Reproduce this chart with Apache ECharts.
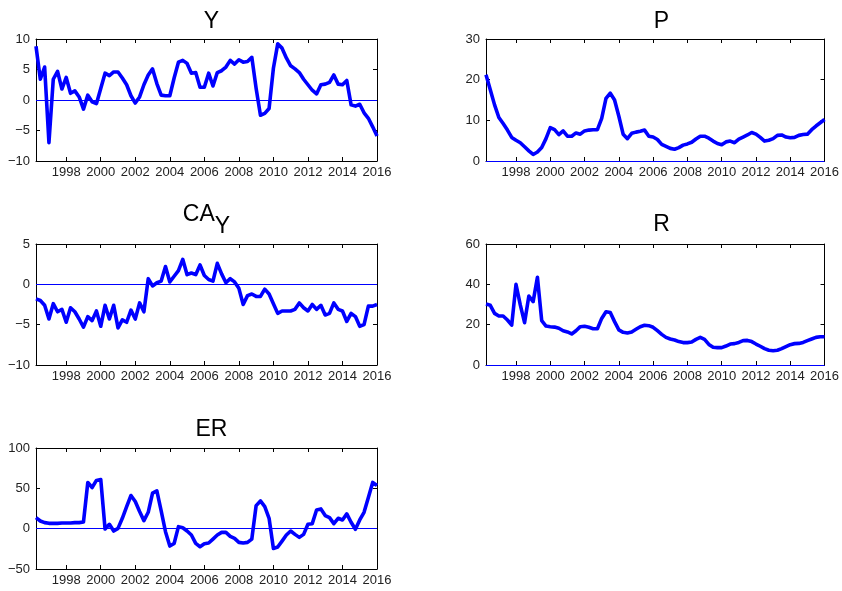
<!DOCTYPE html>
<html>
<head>
<meta charset="utf-8">
<script src="https://cdn.jsdelivr.net/npm/echarts@6/dist/echarts.min.js"></script>
<style>
  html, body { margin: 0; padding: 0; background: #ffffff; }
  #chart { width: 842px; height: 591px; }
</style>
</head>
<body>
<div id="chart"></div>
<script>
// Quarterly observations, 1996Q2 .. 2016Q1 (time in fractional years)
const firstQuarter = 1996.25;
const lastQuarter = 2016.0;
const yearTicks = [1998, 2000, 2002, 2004, 2006, 2008, 2010, 2012, 2014, 2016];

// Output growth (Y)
const seriesY = [
  8.8, 3.4, 5.4, -7.0, 3.4, 4.7, 1.8, 3.7, 1.1, 1.5, 0.5, -1.5, 0.8, -0.3, -0.6, 1.9,
  4.4, 4.0, 4.6, 4.6, 3.6, 2.5, 0.7, -0.5, 0.5, 2.5, 4.1, 5.1, 2.7, 0.8, 0.7, 0.7,
  3.6, 6.2, 6.5, 6.0, 4.4, 4.5, 2.1, 2.1, 4.4, 2.3, 4.5, 4.8, 5.4, 6.5, 5.9, 6.6,
  6.2, 6.3, 7.0, 1.9, -2.5, -2.2, -1.4, 5.2, 9.2, 8.5, 6.9, 5.6, 5.1, 4.5, 3.4, 2.5,
  1.6, 1.0, 2.5, 2.6, 2.9, 4.1, 2.6, 2.5, 3.2, -0.8, -1.0, -0.7, -2.1, -3.0, -4.4, -5.9
];

// Inflation (P)
const seriesP = [
  21.2, 17.5, 13.8, 10.7, 9.2, 7.6, 5.8, 5.1, 4.5, 3.5, 2.5, 1.6, 2.2, 3.3, 5.5, 8.2,
  7.7, 6.5, 7.4, 6.1, 6.1, 6.9, 6.6, 7.4, 7.6, 7.7, 7.7, 10.5, 15.4, 16.7, 15.0, 11.0,
  6.6, 5.5, 6.8, 7.1, 7.3, 7.6, 6.1, 5.9, 5.3, 4.1, 3.6, 3.1, 2.9, 3.3, 3.9, 4.2,
  4.6, 5.4, 6.1, 6.1, 5.6, 4.9, 4.3, 4.0, 4.7, 4.9, 4.5, 5.4, 5.9, 6.4, 7.0, 6.6,
  5.8, 4.9, 5.1, 5.5, 6.3, 6.4, 5.9, 5.7, 5.8, 6.3, 6.5, 6.6, 7.7, 8.6, 9.4, 10.2
];

// Current account to output (CA_Y)
const seriesCA = [
  -1.8, -2.0, -2.6, -4.3, -2.4, -3.4, -3.1, -4.7, -2.9, -3.4, -4.3, -5.3, -4.0, -4.5, -3.3, -5.2,
  -2.6, -4.3, -2.6, -5.4, -4.4, -4.7, -3.2, -4.3, -2.3, -3.4, 0.7, -0.2, 0.2, 0.4, 2.2, 0.3,
  1.0, 1.7, 3.1, 1.2, 1.4, 1.2, 2.4, 1.1, 0.6, 0.4, 2.6, 1.3, 0.2, 0.7, 0.3, -0.5,
  -2.5, -1.4, -1.2, -1.5, -1.5, -0.6, -1.2, -2.4, -3.6, -3.3, -3.3, -3.3, -3.1, -2.3, -2.9, -3.3,
  -2.5, -3.1, -2.6, -3.8, -3.6, -2.3, -3.1, -3.3, -4.6, -3.6, -4.0, -5.2, -5.0, -2.7, -2.7, -2.5
];

// Interest rate (R)
const seriesR = [
  30.2, 29.6, 25.6, 24.3, 24.3, 22.3, 19.8, 40.0, 29.8, 21.0, 34.2, 31.4, 43.5, 22.0, 19.3, 19.0,
  18.8, 18.2, 17.0, 16.4, 15.4, 17.0, 19.0, 19.2, 18.7, 18.0, 18.0, 23.1, 26.4, 26.0, 21.5, 17.4,
  16.2, 15.9, 16.4, 17.7, 19.0, 19.7, 19.5, 18.7, 17.0, 15.2, 13.7, 12.9, 12.4, 11.6, 11.1, 11.1,
  11.4, 12.7, 13.7, 12.7, 10.2, 8.8, 8.6, 8.6, 9.4, 10.4, 10.6, 11.2, 12.1, 12.2, 11.6, 10.4,
  9.3, 8.1, 7.3, 7.1, 7.3, 8.1, 9.1, 10.1, 10.6, 10.7, 11.2, 12.1, 12.9, 13.7, 14.0, 14.0
];

// Exchange rate (ER)
const seriesER = [
  13.7, 9.5, 7.5, 6.6, 6.6, 6.6, 7.0, 7.0, 7.0, 7.5, 7.5, 8.3, 57.3, 51.0, 59.8, 61.0,
  -0.4, 5.4, -2.9, 0.4, 12.9, 27.4, 41.1, 33.6, 21.2, 10.0, 20.3, 44.0, 46.9, 22.0, -3.7, -21.6,
  -18.3, 2.5, 1.2, -2.9, -7.9, -18.3, -22.4, -18.7, -17.8, -12.9, -7.9, -4.6, -4.6, -9.5, -12.0, -17.0,
  -17.8, -17.0, -12.9, 28.6, 34.4, 27.4, 12.9, -24.5, -22.8, -15.4, -7.9, -2.9, -7.1, -10.8, -7.1, 5.4,
  6.2, 23.2, 24.5, 16.2, 13.7, 6.2, 12.9, 10.8, 18.3, 7.9, -0.8, 10.8, 20.3, 38.6, 57.3, 53.5
];

const quarters = seriesY.map((_, i) => firstQuarter + i * 0.25);
const pairs = values => values.map((v, i) => [quarters[i], v]);

const FONT = 'Liberation Sans, Arial, Helvetica, sans-serif';
const BLUE = '#0000ff';

// Panel layout: grid box, title and y scale for each subplot
const panels = [
  { name: 'Y',  values: seriesY,  ymin: -10, ymax: 10,  step: 5,  left: 36,  top: 39,  height: 122, titleTop: 5,   titleShift: 0 },
  { name: 'P',  values: seriesP,  ymin: 0,   ymax: 30,  step: 10, left: 486, top: 39,  height: 122, titleTop: 5,   titleShift: 0 },
  { name: 'CA', sub: 'Y', values: seriesCA, ymin: -10, ymax: 5, step: 5, left: 36, top: 244, height: 121, titleTop: 186, titleShift: -5 },
  { name: 'R',  values: seriesR,  ymin: 0,   ymax: 60,  step: 20, left: 486, top: 244, height: 121, titleTop: 208, titleShift: 0 },
  { name: 'ER', values: seriesER, ymin: -50, ymax: 100, step: 50, left: 36,  top: 448, height: 121, titleTop: 413, titleShift: 0 }
];
const panelWidth = 341;

const minus = v => String(v).replace('-', '\u2212');

const option = {
  animation: false,
  backgroundColor: '#ffffff',
  title: [],
  grid: [],
  xAxis: [],
  yAxis: [],
  series: []
};

panels.forEach((p, i) => {
  option.title.push({
    text: p.sub ? '{m|' + p.name + '}{s|' + p.sub + '}' : p.name,
    left: p.left + panelWidth / 2 + p.titleShift,
    top: p.titleTop,
    textAlign: 'center',
    textStyle: {
      fontFamily: FONT, fontSize: 23, fontWeight: 'normal', color: '#000',
      rich: {
        m: { fontFamily: FONT, fontSize: 23, color: '#000' },
        s: { fontFamily: FONT, fontSize: 23, color: '#000', padding: [24, 0, 0, 0] }
      }
    }
  });
  option.grid.push({ left: p.left, top: p.top, width: panelWidth, height: p.height, containLabel: false });

  const xBase = {
    type: 'value', gridIndex: i, min: firstQuarter, max: lastQuarter,
    splitLine: { show: false },
    axisLine: { show: true, onZero: false, lineStyle: { color: '#000', width: 1 } },
    axisTick: { show: true, inside: true, length: 4, customValues: yearTicks, lineStyle: { color: '#000' } }
  };
  option.xAxis.push(Object.assign({}, xBase, {
    position: 'bottom',
    axisLabel: { show: true, customValues: yearTicks, margin: 5, fontFamily: FONT, fontSize: 13, color: '#222',
                 formatter: v => String(Math.round(v)) }
  }));
  option.xAxis.push(Object.assign({}, xBase, { position: 'top', axisLabel: { show: false } }));

  const yBase = {
    type: 'value', gridIndex: i, min: p.ymin, max: p.ymax, interval: p.step,
    splitLine: { show: false },
    axisLine: { show: true, onZero: false, lineStyle: { color: '#000', width: 1 } },
    axisTick: { show: true, inside: true, length: 4, lineStyle: { color: '#000' } }
  };
  option.yAxis.push(Object.assign({}, yBase, {
    position: 'left',
    axisLabel: { show: true, margin: 6, fontFamily: FONT, fontSize: 13, color: '#222', formatter: minus }
  }));
  option.yAxis.push(Object.assign({}, yBase, { position: 'right', axisLabel: { show: false } }));

  option.series.push({
    type: 'line',
    xAxisIndex: 2 * i,
    yAxisIndex: 2 * i,
    data: pairs(p.values),
    showSymbol: false,
    symbol: 'none',
    lineStyle: { color: BLUE, width: 3.6, join: 'round' },
    z: 3,
    markLine: {
      silent: true,
      symbol: 'none',
      label: { show: false },
      lineStyle: { color: BLUE, width: 1, type: 'solid' },
      data: [{ yAxis: 0 }],
      z: 2
    }
  });
});

const chart = echarts.init(document.getElementById('chart'), null, { renderer: 'canvas' });
chart.setOption(option);
</script>
</body>
</html>
